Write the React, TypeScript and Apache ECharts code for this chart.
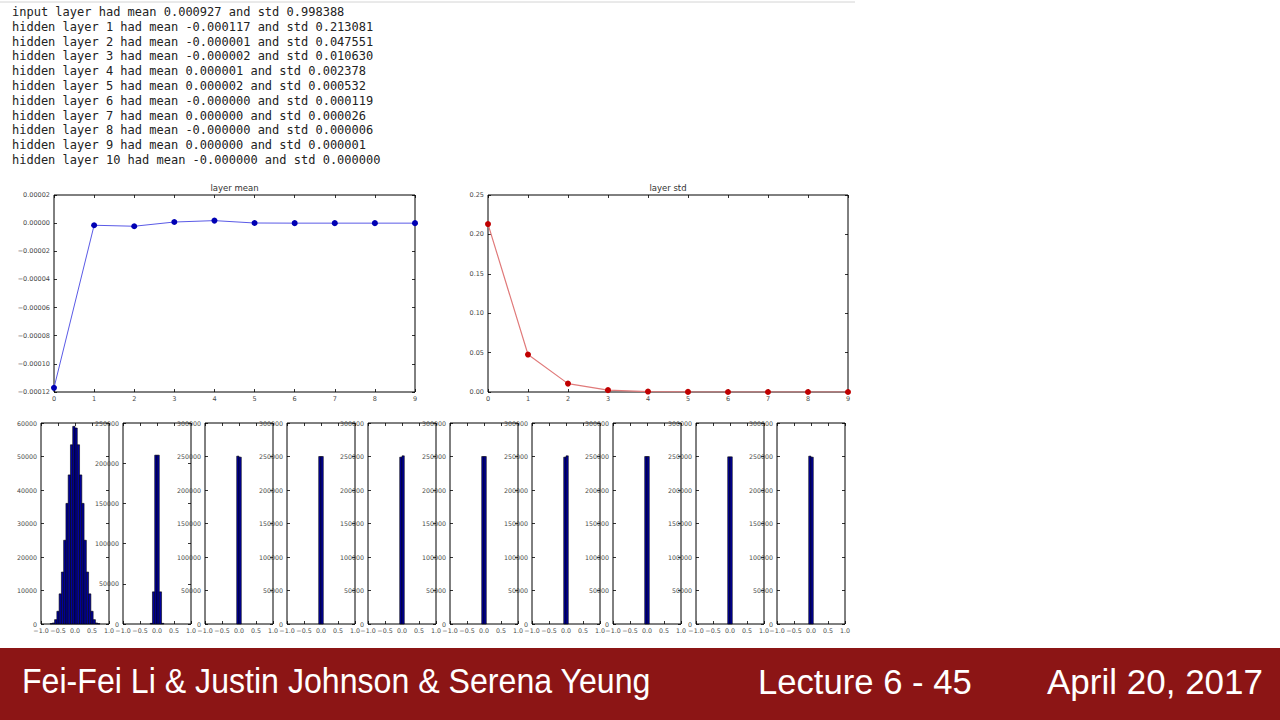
import React, { useEffect, useRef } from 'react';
import * as echarts from 'echarts';

// console printout above the plots
const consoleLines = [
  'input layer had mean 0.000927 and std 0.998388',
  'hidden layer 1 had mean -0.000117 and std 0.213081',
  'hidden layer 2 had mean -0.000001 and std 0.047551',
  'hidden layer 3 had mean -0.000002 and std 0.010630',
  'hidden layer 4 had mean 0.000001 and std 0.002378',
  'hidden layer 5 had mean 0.000002 and std 0.000532',
  'hidden layer 6 had mean -0.000000 and std 0.000119',
  'hidden layer 7 had mean 0.000000 and std 0.000026',
  'hidden layer 8 had mean -0.000000 and std 0.000006',
  'hidden layer 9 had mean 0.000000 and std 0.000001',
  'hidden layer 10 had mean -0.000000 and std 0.000000',
];

const layerIndex = [0, 1, 2, 3, 4, 5, 6, 7, 8, 9];
const layerMeans = [-0.000117, -0.0000015, -0.0000022, 0.0000008, 0.0000018, 0.0000001, 0, 0, 0, 0];
const layerStds = [0.213081, 0.047551, 0.01063, 0.002378, 0.000532, 0.000119, 0.000026, 0.000006, 0.000001, 0];

// histogram counts, 30 bins over [-1, 1]
const hist1 = [
  0, 0, 0, 0, 100, 300, 1300, 3800, 9000, 15500, 25000, 36000, 44500, 53500, 59000,
  58500, 53500, 44500, 36000, 25000, 15500, 9000, 3800, 1300, 300, 100, 0, 0, 0, 0,
];
const hist2 = [...Array(12).fill(0), 800, 40000, 210000, 210000, 40000, 800, ...Array(12).fill(0)];
const hist3 = [...Array(14).fill(0), 250500, 249000, ...Array(14).fill(0)];
const hist4 = [...Array(14).fill(0), 250000, 250000, ...Array(14).fill(0)];
const hist5 = [...Array(14).fill(0), 249000, 251000, ...Array(14).fill(0)];
const hist6 = [...Array(14).fill(0), 250000, 250000, ...Array(14).fill(0)];
const hist7 = [...Array(14).fill(0), 249000, 251000, ...Array(14).fill(0)];
const hist8 = [...Array(14).fill(0), 250000, 250000, ...Array(14).fill(0)];
const hist9 = [...Array(14).fill(0), 249500, 249500, ...Array(14).fill(0)];
const hist10 = [...Array(14).fill(0), 250500, 249000, ...Array(14).fill(0)];
const histograms = [hist1, hist2, hist3, hist4, hist5, hist6, hist7, hist8, hist9, hist10];
const histYMax = [60000, 250000, 300000, 300000, 300000, 300000, 300000, 300000, 300000, 300000];
const histYStep = [10000, 50000, 50000, 50000, 50000, 50000, 50000, 50000, 50000, 50000];

const footerAuthors = 'Fei-Fei Li & Justin Johnson & Serena Yeung';
const footerLecture = 'Lecture 6 - 45';
const footerDate = 'April 20, 2017';

const histLefts = [41, 123, 205, 287, 368, 450, 532, 613, 696, 777];

const minus = (s: string) => s.replace('-', '\u2212');

const App: React.FC = () => {
  const chartRef = useRef<HTMLDivElement>(null);

  useEffect(() => {
    if (!chartRef.current) return;
    const chart = echarts.init(chartRef.current, undefined, { renderer: 'svg' });

    const tick = { show: true, inside: true, length: 3, lineStyle: { color: '#000', width: 0.8 } };
    const labelFont = 'DejaVu Sans';
    const labelColor = '#484848';

    const grids: any[] = [];
    const xAxes: any[] = [];
    const yAxes: any[] = [];

    // one matplotlib-like box: frame, ticks inside on all four sides
    const addPanel = (
      rect: { left: number; top: number; width: number; height: number },
      x: { min: number; max: number; interval: number; fmt: (v: number) => string },
      y: { min: number; max: number; interval: number; fmt: (v: number) => string },
      fontSize: number,
      yMargin: number
    ) => {
      const gi = grids.length;
      grids.push({ ...rect, show: true, borderColor: '#000', borderWidth: 1, containLabel: false });
      const base = {
        type: 'value',
        gridIndex: gi,
        splitLine: { show: false },
        axisLine: { show: false, onZero: false },
        axisTick: tick,
      };
      xAxes.push({
        ...base, position: 'bottom', min: x.min, max: x.max, interval: x.interval,
        axisLabel: { fontSize, color: labelColor, fontFamily: labelFont, margin: 3, formatter: x.fmt },
      });
      xAxes.push({ ...base, position: 'top', min: x.min, max: x.max, interval: x.interval, axisLabel: { show: false } });
      yAxes.push({
        ...base, position: 'left', min: y.min, max: y.max, interval: y.interval,
        axisLabel: { fontSize, color: labelColor, fontFamily: labelFont, margin: yMargin, formatter: y.fmt },
      });
      yAxes.push({ ...base, position: 'right', min: y.min, max: y.max, interval: y.interval, axisLabel: { show: false } });
      return gi * 2;
    };

    const intFmt = (v: number) => String(Math.round(v));
    const meanAx = addPanel(
      { left: 54, top: 195, width: 361, height: 197 },
      { min: 0, max: 9, interval: 1, fmt: intFmt },
      { min: -0.00012, max: 0.00002, interval: 0.00002, fmt: (v) => (Math.abs(v) < 1e-12 ? '0.00000' : minus(v.toFixed(5))) },
      6.5, 4
    );
    const stdAx = addPanel(
      { left: 488, top: 195, width: 360, height: 197 },
      { min: 0, max: 9, interval: 1, fmt: intFmt },
      { min: 0, max: 0.25, interval: 0.05, fmt: (v) => v.toFixed(2) },
      6.5, 4
    );

    const binWidth = 2 / 30;
    const histSeries = histograms.map((counts, i) => {
      const ax = addPanel(
        { left: histLefts[i], top: 423, width: 68, height: 201 },
        { min: -1, max: 1, interval: 0.5, fmt: (v) => minus(v.toFixed(1)) },
        { min: 0, max: histYMax[i], interval: histYStep[i], fmt: intFmt },
        6.3, 4
      );
      const data = counts
        .map((c, k) => [-1 + k * binWidth, -1 + (k + 1) * binWidth, c])
        .filter((d) => d[2] > 0);
      return {
        type: 'custom',
        xAxisIndex: ax,
        yAxisIndex: ax,
        data,
        encode: { x: [0, 1], y: 2 },
        renderItem: (_params: any, api: any) => {
          const p0 = api.coord([api.value(0), api.value(2)]);
          const p1 = api.coord([api.value(1), 0]);
          return {
            type: 'rect',
            shape: { x: p0[0], y: p0[1], width: p1[0] - p0[0], height: p1[1] - p0[1] },
            style: { fill: '#0000a0', stroke: '#000', lineWidth: 0.6 },
          };
        },
      };
    });

    const graphic: any[] = [
      { type: 'line', shape: { x1: 0, y1: 2, x2: 855, y2: 2 }, style: { stroke: '#d4d4d4', lineWidth: 1 } },
      ...consoleLines.map((t, i) => ({
        type: 'text',
        x: 12,
        y: 12 + i * 14.8,
        style: { text: t, fill: '#222', fontSize: 12, fontFamily: 'DejaVu Sans Mono', verticalAlign: 'middle' },
      })),
      {
        type: 'text', x: 234.5, y: 188,
        style: { text: 'layer mean', fill: '#333', fontSize: 8.5, fontFamily: labelFont, align: 'center', verticalAlign: 'middle' },
      },
      {
        type: 'text', x: 668, y: 188,
        style: { text: 'layer std', fill: '#333', fontSize: 8.5, fontFamily: labelFont, align: 'center', verticalAlign: 'middle' },
      },
      { type: 'rect', shape: { x: 0, y: 648, width: 1280, height: 72 }, style: { fill: '#8c1515' } },
      {
        type: 'text', x: 22, y: 681, scaleX: 0.918,
        style: { text: footerAuthors, fill: '#fff', fontSize: 35, fontFamily: 'Liberation Sans', verticalAlign: 'middle' },
      },
      {
        type: 'text', x: 758, y: 681, scaleX: 0.99,
        style: { text: footerLecture, fill: '#fff', fontSize: 35, fontFamily: 'Liberation Sans', verticalAlign: 'middle' },
      },
      {
        type: 'text', x: 1263, y: 681,
        style: { text: footerDate, fill: '#fff', fontSize: 35, fontFamily: 'Liberation Sans', align: 'right', verticalAlign: 'middle' },
      },
    ];

    chart.setOption({
      animation: false,
      backgroundColor: '#fff',
      grid: grids,
      xAxis: xAxes,
      yAxis: yAxes,
      graphic,
      series: [
        {
          name: 'layer mean',
          type: 'line',
          xAxisIndex: meanAx,
          yAxisIndex: meanAx,
          data: layerIndex.map((x, i) => [x, layerMeans[i]]),
          symbol: 'circle',
          symbolSize: 6,
          lineStyle: { color: '#5a5ae6', width: 1 },
          itemStyle: { color: '#0000b4' },
        },
        {
          name: 'layer std',
          type: 'line',
          xAxisIndex: stdAx,
          yAxisIndex: stdAx,
          data: layerIndex.map((x, i) => [x, layerStds[i]]),
          symbol: 'circle',
          symbolSize: 6,
          lineStyle: { color: '#e07a7a', width: 1.2 },
          itemStyle: { color: '#c00000' },
        },
        ...histSeries,
      ],
    });

    return () => {
      chart.dispose();
    };
  }, []);

  return (
    <div
      ref={chartRef}
      style={{ position: 'absolute', left: 0, top: 0, width: '1280px', height: '720px' }}
    />
  );
};

export default App;
